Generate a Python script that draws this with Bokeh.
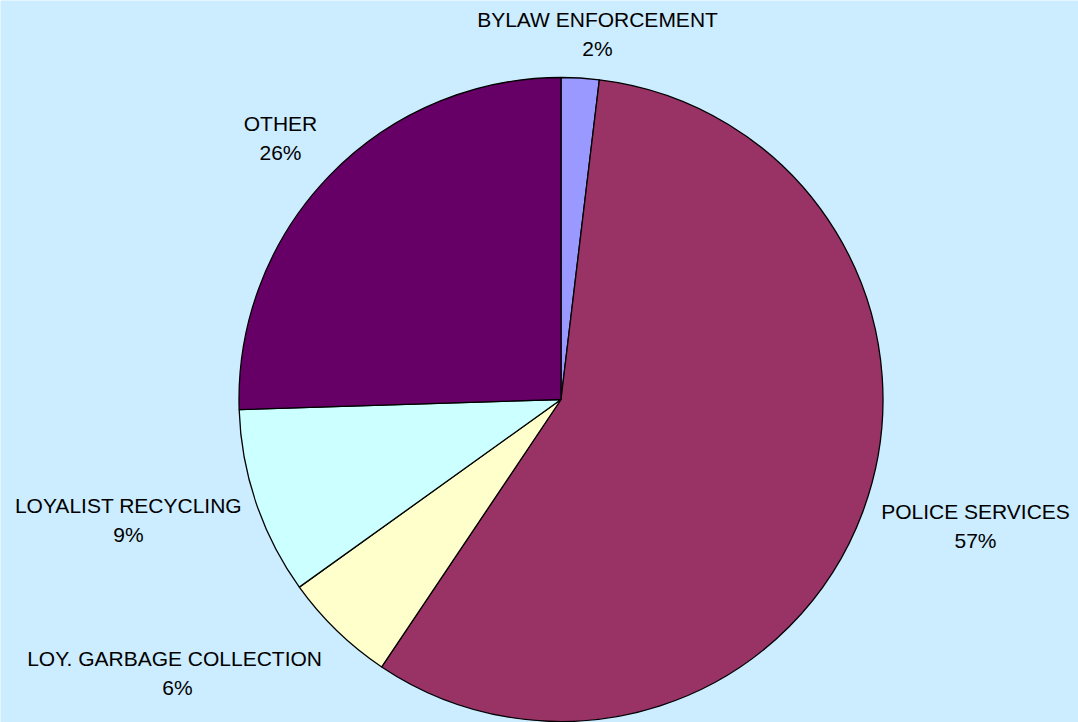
import math
from bokeh.plotting import figure
from bokeh.models import Range1d, ColumnDataSource
from bokeh.core.properties import value
from bokeh.embed import file_html
from bokeh.resources import INLINE

# ---- data ----
categories = ["BYLAW ENFORCEMENT", "POLICE SERVICES", "LOY.  GARBAGE COLLECTION",
              "LOYALIST RECYCLING", "OTHER"]
shares = [1.9, 57.5, 5.7, 9.4, 25.5]
pct_labels = ["2%", "57%", "6%", "9%", "26%"]

# ---- styles / layout ----
colors = ["#9999FF", "#993366", "#FFFFCC", "#CCFFFF", "#660066"]
bg = "#CCECFF"
W, H = 1078, 722
cx, cy, r = 560.5, H - 399, 322
# label anchor (center x, baseline of first line in page px)
label_x = [597, 975, 177, 128, 280]
label_y1 = [19, 511, 658, 505, 123]
line_gap = 29

total = sum(shares)
starts, ends = [], []
cum = 0.0
for s in shares:
    a = cum / total
    cum += s
    b = cum / total
    starts.append(math.pi / 2 - 2 * math.pi * b)
    ends.append(math.pi / 2 - 2 * math.pi * a)

src = ColumnDataSource(dict(cat=categories, start=starts, end=ends, color=colors))

p = figure(width=W, height=H, output_backend="svg", toolbar_location=None,
           x_range=Range1d(0, W), y_range=Range1d(0, H),
           min_border=0, background_fill_color=bg, border_fill_color=bg)
p.axis.visible = False
p.grid.visible = False
p.outline_line_color = None

p.wedge(x=cx, y=cy, radius=r, start_angle="start", end_angle="end",
        fill_color="color", line_color="black", line_width=1.3, source=src)

lx = label_x + label_x
ly = [H - y for y in label_y1] + [H - y - line_gap for y in label_y1]
txt = categories + pct_labels
p.text(x=lx, y=ly, text=txt, text_align="center", text_baseline="alphabetic",
       text_font=value("Liberation Sans"), text_font_size="21px", text_color="black")

html = file_html(p, INLINE)
open("out.html", "w").write(html)
